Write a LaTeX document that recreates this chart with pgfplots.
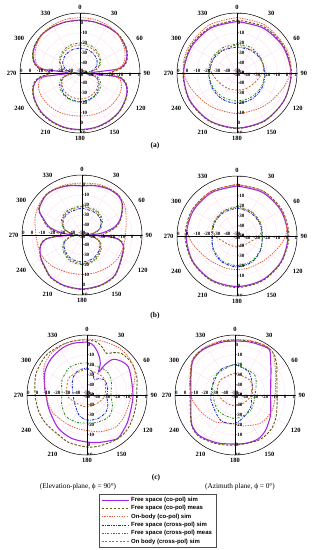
\documentclass[border=0pt]{standalone}
\usepackage{fontspec}
\setmainfont{Liberation Serif}
\newfontfamily\legfont{Liberation Sans}
\usepackage{pgfplots}
\pgfplotsset{compat=1.18}
\usepgfplotslibrary{polar}
\definecolor{cS}{RGB}{165,40,230}
\definecolor{cM}{RGB}{95,90,20}
\definecolor{cO}{RGB}{230,95,60}
\definecolor{cXS}{RGB}{25,45,215}
\definecolor{cXM}{RGB}{40,140,30}
\definecolor{cXO}{RGB}{180,105,35}
\tikzset{
 sS/.style={cS, line width=1.1pt, solid},
 sM/.style={cM, line width=0.9pt, dash pattern=on 2.5pt off 1.5pt},
 sO/.style={cO, line width=0.8pt, dash pattern=on 1.4pt off 1.1pt},
 sXS/.style={cXS, line width=0.9pt, dash pattern=on 2.5pt off 1.2pt on 0.7pt off 1.2pt},
 sXM/.style={cXM, line width=0.9pt, dash pattern=on 2pt off 1.5pt on 0.6pt off 1.5pt},
 sXO/.style={cXO, line width=0.8pt, dash pattern=on 2pt off 1.6pt},
 rl/.style={font=\fontsize{5}{5}\selectfont\bfseries, inner sep=0.4pt},
}
\pgfplotsset{rp/.style={
  scale only axis, width=120bp, height=120bp,
  xmin=0, xmax=360, ymin=0, ymax=60,
  xtick={0,30,...,330},
  xticklabels={90,60,30,0,330,300,270,240,210,180,150,120},
  ytick={0,10,...,60}, yticklabels={},
  major tick length=0pt,
  grid=major, major grid style={draw=magenta!15, line width=0.3pt},
  axis line style={black, line width=0.5pt},
  xticklabel style={font=\fontsize{6.5}{6.5}\selectfont\bfseries},
  x filter/.expression={90-x},
  y filter/.expression={y+50},
  anchor=center,
}}
\newcommand\radlabels{%
 \draw[black, line width=0.4pt] (axis cs:0,60) -- (axis cs:180,60);
 \draw[black, line width=0.4pt] (axis cs:90,60) -- (axis cs:270,60);
 \pgfplotsinvokeforeach{0,10,20,30,40,50,60}{%
  \node[rl,anchor=west] at (axis cs:90,##1) {\pgfmathtruncatemacro\rv{##1-50}\rv};
  \node[rl,anchor=west] at (axis cs:270,##1) {\pgfmathtruncatemacro\rv{##1-50}\rv};
  \node[rl,anchor=south] at (axis cs:180,##1) {\pgfmathtruncatemacro\rv{##1-50}\rv};
  \node[rl,anchor=north] at (axis cs:0,##1) {\pgfmathtruncatemacro\rv{##1-50}\rv};
 }}
\begin{document}
\begin{tikzpicture}[x=1bp,y=1bp]
\path[use as bounding box] (0,0) rectangle (313,-550);
% ---------------- (a) elevation
\begin{polaraxis}[rp, at={(80bp,-73bp)}]
\addplot[sS, smooth] coordinates {(0,3)(15,3)(30,3.5)(45,4)(60,2.5)(70,0)(78,-4)(84,-12)(90,-38)(96,-12)(102,-4)(110,0)(120,2.5)(135,5)(150,6)(165,6.5)(180,6.5)(195,6.5)(210,6)(225,5)(240,2.5)(250,0)(258,-4)(264,-12)(270,-38)(276,-12)(282,-4)(290,0)(300,2.5)(315,4)(330,3.5)(345,3)(360,3)};
\addplot[sM, smooth] coordinates {(0,2.5)(15,3)(30,3.8)(45,4.5)(60,3)(70,0.5)(78,-3)(84,-9)(90,-20)(96,-9)(102,-3)(110,0.5)(120,3)(135,5.5)(150,6.5)(165,7)(180,7)(195,7)(210,6.5)(225,5.5)(240,3)(250,0.5)(258,-3)(264,-9)(270,-20)(276,-9)(282,-3)(290,0.5)(300,3)(315,4.5)(330,3.8)(345,3)(360,2.5)};
\addplot[sO, smooth] coordinates {(0,5.5)(15,5.5)(30,5)(45,4)(60,1)(70,-2)(80,-7)(90,-18)(100,-9)(110,-6)(120,-5)(135,-5)(150,-5.5)(165,-6.5)(180,-7)(195,-6.5)(210,-5.5)(225,-5)(240,-5)(250,-6)(260,-9)(270,-18)(280,-7)(290,-2)(300,1)(315,4)(330,5)(345,5.5)(360,5.5)};
\addplot[sXS, smooth] coordinates {(0,-25)(20,-25.5)(40,-27)(60,-30)(75,-35)(85,-42)(90,-48)(95,-42)(105,-33)(120,-28)(140,-24)(160,-22)(180,-21.5)(200,-22)(220,-24)(240,-28)(255,-33)(265,-42)(270,-48)(275,-42)(285,-35)(300,-30)(320,-27)(340,-25.5)(360,-25)};
\addplot[sXM, smooth] coordinates {(0,-20)(20,-20.5)(40,-22.5)(60,-26)(75,-31)(85,-39)(90,-46)(95,-39)(105,-31)(120,-26)(140,-23)(160,-21.5)(180,-21)(200,-21.5)(220,-23)(240,-26)(255,-31)(265,-39)(270,-46)(275,-39)(285,-31)(300,-26)(320,-22.5)(340,-20.5)(360,-20)};
\addplot[sXO, smooth] coordinates {(0,-22)(20,-22.5)(40,-24)(60,-27)(75,-32)(85,-40)(90,-46)(95,-40)(105,-33)(120,-29)(140,-26)(160,-24.5)(180,-24)(200,-24.5)(220,-26)(240,-29)(255,-33)(265,-40)(270,-46)(275,-40)(285,-32)(300,-27)(320,-24)(340,-22.5)(360,-22)};
\radlabels
\end{polaraxis}
% ---------------- (a) azimuth
\begin{polaraxis}[rp, at={(237bp,-73bp)}]
\addplot[sS, smooth] coordinates {(0,1.5)(30,2)(60,3)(90,4)(120,4.5)(150,5)(180,5)(210,5)(240,4.5)(270,3.5)(300,2.5)(330,2)(360,1.5)};
\addplot[sM, smooth] coordinates {(0,3)(30,3.5)(60,4)(90,4.5)(120,4.5)(150,5.5)(180,5.5)(210,5.5)(240,5)(270,4)(300,3.5)(330,3)(360,3)};
\addplot[sO, smooth] coordinates {(0,5.5)(30,5.5)(60,5)(80,4.5)(95,2)(110,-2)(130,-6)(150,-8.5)(180,-9.5)(210,-8.5)(230,-6)(250,-2)(265,2)(280,4.5)(300,5)(330,5.5)(360,5.5)};
\addplot[sXS, smooth] coordinates {(0,-24)(30,-23.5)(60,-22.5)(90,-22)(120,-21)(150,-20)(180,-19.5)(210,-20)(240,-21)(270,-22)(300,-22.5)(330,-23.5)(360,-24)};
\addplot[sXM, smooth] coordinates {(0,-21)(30,-21)(60,-22)(90,-22.5)(120,-22)(150,-22)(180,-22)(210,-22)(240,-22)(270,-21.5)(300,-21)(330,-21)(360,-21)};
\addplot[sXO, smooth] coordinates {(0,-21.5)(45,-22)(80,-23)(100,-27)(120,-30)(150,-32)(180,-33)(210,-32)(240,-30)(260,-27)(280,-23)(315,-22)(360,-21.5)};
\radlabels
\end{polaraxis}
% ---------------- (b) elevation
\begin{polaraxis}[rp, at={(82bp,-235bp)}]
\addplot[sS, smooth] coordinates {(0,-1)(15,1)(30,3)(43,3.5)(52,1)(60,-4)(68,-9)(76,-16)(82,-26)(86,-33)(90,-40)(94,-22)(97,-13)(105,-7)(120,-4.5)(135,0)(144,2.5)(160,3.5)(180,4)(200,3.5)(216,2.5)(225,0)(241,-3)(255,-7)(263,-13)(266,-22)(270,-40)(274,-33)(278,-26)(284,-16)(292,-9)(301,0)(317,3.5)(330,3)(345,1)(360,-1)};
\addplot[sM, smooth] coordinates {(0,-0.5)(15,1.5)(30,3.5)(43,4)(52,1.5)(60,-3.5)(68,-8)(76,-14)(82,-22)(86,-27)(90,-29)(94,-20)(97,-12)(105,-6.5)(120,-4)(135,0.5)(144,3)(160,4)(180,4.5)(200,4)(216,3)(225,0.5)(241,-2.5)(255,-6.5)(263,-12)(266,-20)(270,-29)(274,-27)(278,-22)(284,-14)(292,-8)(301,0.5)(317,4)(330,3.5)(345,1.5)(360,-0.5)};
\addplot[sO, smooth] coordinates {(0,2)(20,3.5)(40,4.5)(55,2)(70,-3)(85,-6)(100,-7)(120,-7)(140,-8.5)(160,-10)(180,-10.7)(200,-10)(220,-7.5)(235,-5.5)(250,-4.5)(270,-4)(290,0)(305,2.5)(320,4)(340,3)(360,2)};
\addplot[sXS, smooth] coordinates {(0,-23)(30,-24)(51,-26)(70,-31)(82,-39)(90,-46)(98,-39)(112,-31)(132,-27)(155,-24)(180,-23)(205,-24)(228,-27)(248,-31)(262,-39)(270,-46)(278,-39)(290,-31)(309,-26)(330,-24)(360,-23)};
\addplot[sXM, smooth] coordinates {(0,-20.5)(30,-21.5)(51,-24)(70,-30)(82,-38)(90,-45)(98,-38)(112,-30)(132,-25)(155,-21.5)(180,-20.5)(205,-21.5)(228,-25)(248,-30)(262,-38)(270,-45)(278,-38)(290,-30)(309,-24)(330,-21.5)(360,-20.5)};
\addplot[sXO, smooth] coordinates {(0,-21.5)(30,-22.5)(51,-25)(70,-31)(82,-39)(90,-45)(98,-39)(112,-31)(132,-26)(155,-22.5)(180,-21.5)(205,-22.5)(228,-26)(248,-31)(262,-39)(270,-45)(278,-39)(290,-31)(309,-25)(330,-22.5)(360,-21.5)};
\radlabels
\end{polaraxis}
% ---------------- (b) azimuth
\begin{polaraxis}[rp, at={(237bp,-236bp)}]
\addplot[sS, smooth] coordinates {(0,0)(30,0.5)(60,0.8)(90,1)(120,1)(150,0.8)(180,0.5)(210,0.8)(240,1)(270,0.8)(300,0.5)(330,0.3)(360,0)};
\addplot[sM, smooth] coordinates {(0,1.5)(30,2)(60,2)(90,2)(120,1.5)(150,1.5)(180,1.5)(210,1.5)(240,1.5)(270,2)(300,2)(330,1.5)(360,1.5)};
\addplot[sO, smooth] coordinates {(0,1.5)(30,1.8)(60,1.5)(80,0.5)(90,-1.5)(100,-5)(115,-10)(135,-14)(160,-16)(180,-16.5)(200,-16)(225,-14)(245,-10)(260,-5)(270,-1.5)(280,0.5)(300,1.5)(330,1.8)(360,1.5)};
\addplot[sXS, smooth] coordinates {(0,-22)(30,-23)(60,-24)(90,-25)(120,-22.5)(150,-20)(180,-19)(210,-20)(240,-22.5)(270,-25.5)(300,-24)(330,-23)(360,-22)};
\addplot[sXM, smooth] coordinates {(0,-20.5)(30,-21.5)(60,-23)(90,-24.5)(120,-23)(150,-21)(180,-20.5)(210,-21)(240,-23)(270,-24.5)(300,-23)(330,-21.5)(360,-20.5)};
\addplot[sXO, smooth] coordinates {(0,-21)(30,-22)(60,-23.5)(80,-25)(95,-30)(110,-35)(135,-38)(180,-39)(225,-38)(250,-35)(265,-30)(280,-25)(300,-23.5)(330,-22)(360,-21)};
\radlabels
\end{polaraxis}
% ---------------- (c) elevation
\begin{polaraxis}[rp, at={(87bp,-395bp)}]
\addplot[sS, smooth] coordinates {(0,3)(6,1)(12,-4)(18,-10)(23,-16)(27,-24)(31,-14)(36,-6)(45,-2)(55,0)(68,-2.5)(90,-4)(105,-4)(125,-1)(143,3)(150,2)(165,-1)(180,-3)(200,-4)(220,-6)(240,-9)(255,-9.5)(265,-9.5)(280,-7)(299,-2)(315,1)(332,3)(345,3.5)(360,3)};
\addplot[sM, smooth] coordinates {(0,5)(10,4)(18,0)(25,-4)(32,0)(40,4)(55,5)(70,3)(85,0)(100,0)(115,1)(130,3)(145,3.5)(165,2.5)(180,2)(200,1)(215,-1)(235,0)(250,1)(265,1.5)(280,3)(295,5.5)(315,7)(335,6)(350,5.5)(360,5)};
\addplot[sO, smooth] coordinates {(0,6)(15,6)(34,7)(50,6)(65,3)(80,-3)(100,-7)(120,-7)(138,-7)(160,-11)(188,-15)(210,-15)(240,-12)(260,-10)(275,-9)(290,-4)(305,2)(320,5)(340,6)(360,6)};
\addplot[sXS, smooth] coordinates {(0,-23)(15,-27)(25,-33)(35,-30)(49,-27)(70,-28)(95,-30)(115,-27)(132,-24.5)(155,-24)(180,-25)(200,-28)(220,-33)(250,-36)(275,-36)(300,-33)(320,-28)(340,-24)(360,-23)};
\addplot[sXM, smooth] coordinates {(0,-18)(37,-19)(60,-22)(90,-26)(115,-22)(135,-19)(160,-21)(180,-22)(200,-21)(224,-20)(250,-23)(275,-25)(300,-21)(326,-17.5)(345,-17.5)(360,-18)};
\addplot[sXO, smooth] coordinates {(0,-24)(45,-26)(90,-32)(120,-36)(150,-38)(180,-38)(210,-38)(240,-36)(270,-30)(315,-25)(360,-24)};
\radlabels
\end{polaraxis}
% ---------------- (c) azimuth
\begin{polaraxis}[rp, at={(235bp,-395bp)}]
\addplot[sS, smooth] coordinates {(0,4)(15,5)(30,6.5)(37,7)(42,3)(48,-2)(55,-6)(65,-10.5)(75,-13)(90,-14.4)(105,-13)(120,-9)(129,-6.7)(140,-3)(152,-0.4)(165,-0.5)(178,-1)(200,1)(221,4)(235,2.5)(250,-3)(270,-6)(290,-3)(309,4.3)(325,5.5)(345,4.5)(360,4)};
\addplot[sM, smooth] coordinates {(0,5)(15,6)(30,7.5)(40,7.5)(45,6)(55,1)(65,-4)(75,-6.5)(90,-8)(105,-6.5)(120,-3)(135,0)(152,1)(178,0)(200,2)(221,5)(235,3)(250,-2.5)(270,-5)(290,-2.5)(309,5)(325,6)(345,5.5)(360,5)};
\addplot[sO, smooth] coordinates {(0,5.5)(15,6.5)(30,8)(40,7.5)(48,3)(55,-1)(65,-5)(75,-8)(90,-9.5)(105,-10)(116,-10)(138,-12)(165,-18)(190,-21.5)(215,-17)(240,-12.7)(260,-8)(270,-6)(285,-3)(309,5)(325,6.5)(345,6)(360,5.5)};
\addplot[sXS, smooth] coordinates {(0,-19.5)(30,-23)(60,-30)(92,-34)(120,-31)(147,-28)(180,-21.5)(210,-21)(253,-25.5)(270,-26)(294,-25.5)(330,-21)(360,-19.5)};
\addplot[sXM, smooth] coordinates {(0,-19)(45,-22)(90,-30)(135,-28)(180,-26.5)(225,-27)(270,-28)(315,-22)(360,-19)};
\addplot[sXO, smooth] coordinates {(0,-28)(45,-29)(80,-32)(100,-35)(130,-38)(180,-39)(230,-38)(260,-35)(280,-32)(315,-29)(360,-28)};
\radlabels
\end{polaraxis}
% ---------------- texts
\node[font=\fontsize{7.5}{8}\selectfont\bfseries] at (155,-146) {(a)};
\node[font=\fontsize{7.5}{8}\selectfont\bfseries] at (155,-316) {(b)};
\node[font=\fontsize{7.5}{8}\selectfont\bfseries] at (156,-478) {(c)};
\node[font=\fontsize{7.3}{8}\selectfont] at (78,-487) {(Elevation-plane, ϕ = 90°)};
\node[font=\fontsize{7.3}{8}\selectfont] at (240,-487) {(Azimuth plane, ϕ = 0°)};
% ---------------- legend
\begin{axis}[hide axis, scale only axis, width=20bp, height=20bp,
  xmin=0, xmax=1, ymin=0, ymax=1, at={(157.5bp,-521bp)}, anchor=center,
  legend image code/.code={\draw[#1] (0bp,0bp) -- (27bp,0bp);},
  legend cell align=left,
  legend style={at={(0.5,0.5)}, anchor=center, draw=black!70, line width=0.4pt,
    font=\legfont\bfseries\fontsize{6}{7}\selectfont, row sep=-1.5bp,
    inner xsep=2bp, inner ysep=1bp}]
\addlegendimage{sS}\addlegendentry{Free space (co-pol) sim}
\addlegendimage{sM}\addlegendentry{Free space (co-pol) meas}
\addlegendimage{sO}\addlegendentry{On-body (co-pol) sim}
\addlegendimage{sXS}\addlegendentry{Free space (cross-pol) sim}
\addlegendimage{sXM}\addlegendentry{Free space (cross-pol) meas}
\addlegendimage{sXO}\addlegendentry{On body (cross-pol) sim}
\end{axis}
\end{tikzpicture}
\end{document}
